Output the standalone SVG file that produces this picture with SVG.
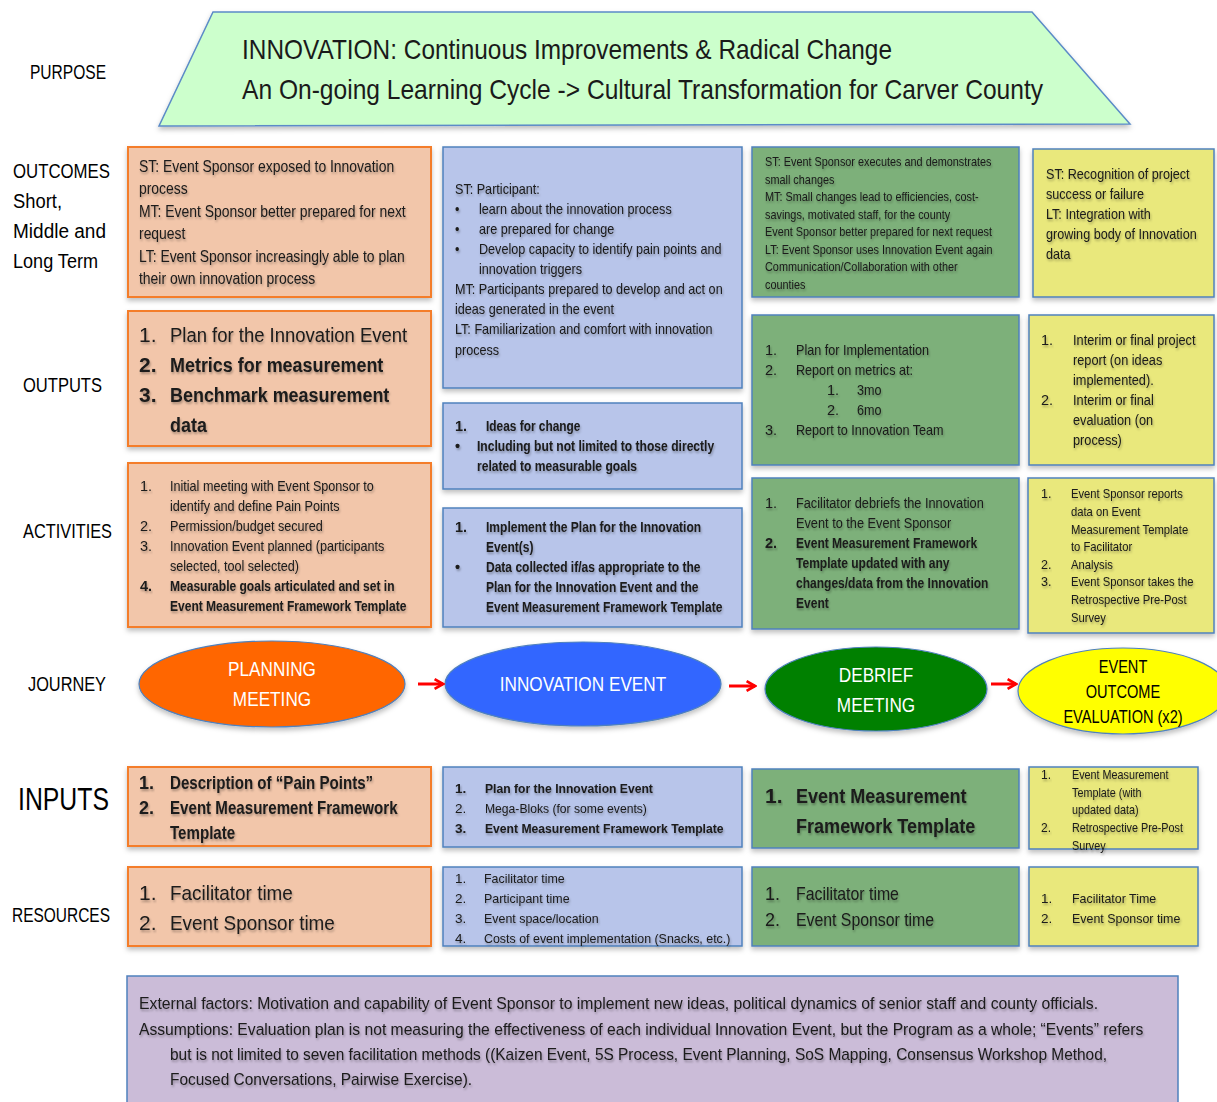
<svg xmlns="http://www.w3.org/2000/svg" width="1217" height="1102" viewBox="0 0 1217 1102">
  <defs>
    <filter id="boxShadow" x="-5%" y="-5%" width="110%" height="120%">
      <feDropShadow dx="0" dy="3" stdDeviation="2.5" flood-color="#000" flood-opacity="0.25"/>
    </filter>
    <filter id="txtShadow" x="-2%" y="-20%" width="104%" height="150%">
      <feDropShadow dx="1" dy="2" stdDeviation="1.2" flood-color="#000" flood-opacity="0.3"/>
    </filter>
    <marker id="redArrow" viewBox="0 0 10 10" refX="8" refY="5" markerWidth="4" markerHeight="4" orient="auto" markerUnits="strokeWidth">
      <path d="M1,1 L8,5 L1,9" fill="none" stroke="#ff0000" stroke-width="2.2"/>
    </marker>
  </defs>
  <style>
    text { font-family: "Liberation Sans", Arial, sans-serif; fill: #1a1a1a; }
    .lbl { font-size: 20px; fill: #000; }
    .t { filter: url(#txtShadow); }
    .b { font-weight: bold; }
    .orange { fill: #f2c6aa; stroke: #f47d2a; stroke-width: 2; filter: url(#boxShadow); }
    .blue { fill: #b8c5ea; stroke: #4f81bd; stroke-width: 1.5; filter: url(#boxShadow); }
    .green { fill: #7db07a; stroke: #4f81bd; stroke-width: 1.5; filter: url(#boxShadow); }
    .yellow { fill: #e9e87c; stroke: #4f81bd; stroke-width: 1.5; filter: url(#boxShadow); }
    .purple { fill: #cbbcd8; stroke: #4f81bd; stroke-width: 1.5; }
    .s12 { font-size: 12.5px; }
    .s13 { font-size: 13.5px; }
    .s14 { font-size: 14.5px; }
    .s16 { font-size: 16px; }
    .ell { stroke: #4f81bd; stroke-width: 1.2; filter: url(#boxShadow); }
    .wt { fill: #ffffff; font-size: 20px; text-anchor: middle; }
    .bk { fill: #000000; font-size: 18px; text-anchor: middle; }
  </style>

  <rect width="1217" height="1102" fill="#ffffff"/>

  <!-- Row labels -->
  <g id="row-labels">
    <text class="lbl" x="30" y="79" textLength="76" lengthAdjust="spacingAndGlyphs">PURPOSE</text>
    <text class="lbl" x="13" y="178" textLength="97" lengthAdjust="spacingAndGlyphs">OUTCOMES</text>
    <text class="lbl" x="13" y="208" textLength="49" lengthAdjust="spacingAndGlyphs">Short,</text>
    <text class="lbl" x="13" y="238" textLength="93" lengthAdjust="spacingAndGlyphs">Middle and</text>
    <text class="lbl" x="13" y="268" textLength="85" lengthAdjust="spacingAndGlyphs">Long Term</text>
    <text class="lbl" x="23" y="392" textLength="79" lengthAdjust="spacingAndGlyphs">OUTPUTS</text>
    <text class="lbl" x="23" y="538" textLength="89" lengthAdjust="spacingAndGlyphs">ACTIVITIES</text>
    <text class="lbl" x="28" y="691" textLength="78" lengthAdjust="spacingAndGlyphs">JOURNEY</text>
    <text class="lbl" x="18" y="810" style="font-size:32px" textLength="91" lengthAdjust="spacingAndGlyphs">INPUTS</text>
    <text class="lbl" x="12" y="922" textLength="98" lengthAdjust="spacingAndGlyphs">RESOURCES</text>
  </g>

  <!-- Purpose banner -->
  <g id="purpose">
    <polygon points="213,12 1032,12 1130,124 159,126" fill="#ccffcc" stroke="#5b8bc7" stroke-width="1.5" filter="url(#boxShadow)"/>
    <text x="242" y="59" style="font-size:28px" textLength="650" lengthAdjust="spacingAndGlyphs">INNOVATION: Continuous Improvements &amp; Radical Change</text>
    <text x="242" y="99" style="font-size:28px" textLength="801" lengthAdjust="spacingAndGlyphs">An On-going Learning Cycle -&gt; Cultural Transformation for Carver County</text>
  </g>

  <!-- Planning meeting column -->
  <g id="plan-outcomes">
    <rect class="orange" x="128" y="147" width="303" height="150"/>
    <g class="t s16" transform="translate(139 0) scale(0.87 1)">
      <text x="0" y="172">ST: Event Sponsor exposed to Innovation</text>
      <text x="0" y="194">process</text>
      <text x="0" y="217">MT: Event Sponsor better prepared for next</text>
      <text x="0" y="239">request</text>
      <text x="0" y="262">LT: Event Sponsor increasingly able to plan</text>
      <text x="0" y="284">their own innovation process</text>
    </g>
  </g>
  <g id="plan-outputs">
    <rect class="orange" x="128" y="311" width="303" height="135"/>
    <g class="t" style="font-size:21px">
      <text x="139" y="342">1.</text>
      <text class="b" x="139" y="372">2.</text>
      <text class="b" x="139" y="402">3.</text>
    </g>
    <g class="t" style="font-size:21px" transform="translate(170 0) scale(0.88 1)">
      <text x="0" y="342">Plan for the Innovation Event</text>
    </g>
    <g class="t b" style="font-size:21px" transform="translate(170 0) scale(0.855 1)">
      <text x="0" y="372">Metrics for measurement</text>
      <text x="0" y="402">Benchmark measurement</text>
      <text x="0" y="432">data</text>
    </g>
  </g>
  <g id="plan-activities">
    <rect class="orange" x="128" y="463" width="303" height="164"/>
    <g class="t s14">
      <text x="140" y="491">1.</text>
      <text x="140" y="531">2.</text>
      <text x="140" y="551">3.</text>
      <text class="b" x="140" y="591">4.</text>
    </g>
    <g class="t s14" transform="translate(170 0) scale(0.87 1)">
      <text x="0" y="491">Initial meeting with Event Sponsor to</text>
      <text x="0" y="511">identify and define Pain Points</text>
      <text x="0" y="531">Permission/budget secured</text>
      <text x="0" y="551">Innovation Event planned (participants</text>
      <text x="0" y="571">selected, tool selected)</text>
    </g>
    <g class="t s14 b" transform="translate(170 0) scale(0.83 1)">
      <text x="0" y="591">Measurable goals articulated and set in</text>
      <text x="0" y="611">Event Measurement Framework Template</text>
    </g>
  </g>
  <g id="plan-inputs">
    <rect class="orange" x="128" y="767" width="303" height="79"/>
    <g class="t b" style="font-size:18px">
      <text x="139" y="789">1.</text>
      <text x="139" y="814">2.</text>
    </g>
    <g class="t b" style="font-size:18px" transform="translate(170 0) scale(0.84 1)">
      <text x="0" y="789">Description of “Pain Points”</text>
      <text x="0" y="814">Event Measurement Framework</text>
      <text x="0" y="839">Template</text>
    </g>
  </g>
  <g id="plan-resources">
    <rect class="orange" x="128" y="867" width="303" height="79"/>
    <g class="t" style="font-size:21px">
      <text x="139" y="900">1.</text>
      <text x="139" y="930">2.</text>
    </g>
    <g class="t" style="font-size:21px" transform="translate(170 0) scale(0.9 1)">
      <text x="0" y="900">Facilitator time</text>
      <text x="0" y="930">Event Sponsor time</text>
    </g>
  </g>

  <!-- Innovation event column -->
  <g id="event-outcomes">
    <rect class="blue" x="443" y="147" width="299" height="241"/>
    <g class="t s14" transform="translate(455 0) scale(0.87 1)">
      <text x="0" y="194">ST: Participant:</text>
      <text x="0" y="214">•</text>
      <text x="0" y="234">•</text>
      <text x="0" y="254">•</text>
      <text x="0" y="294">MT: Participants prepared to develop and act on</text>
      <text x="0" y="314">ideas generated in the event</text>
      <text x="0" y="334">LT: Familiarization and comfort with innovation</text>
      <text x="0" y="355">process</text>
    </g>
    <g class="t s14" transform="translate(479 0) scale(0.87 1)">
      <text x="0" y="214">learn about the innovation process</text>
      <text x="0" y="234">are prepared for change</text>
      <text x="0" y="254">Develop capacity to identify pain points and</text>
      <text x="0" y="274">innovation triggers</text>
    </g>
  </g>
  <g id="event-outputs">
    <rect class="blue" x="443" y="403" width="299" height="86"/>
    <g class="t s14 b">
      <text x="455" y="431">1.</text>
      <text x="455" y="451">•</text>
    </g>
    <g class="t s14 b" transform="translate(486 0) scale(0.82 1)">
      <text x="0" y="431">Ideas for change</text>
    </g>
    <g class="t s14 b" transform="translate(477 0) scale(0.835 1)">
      <text x="0" y="451">Including but not limited to those directly</text>
      <text x="0" y="471">related to measurable goals</text>
    </g>
  </g>
  <g id="event-activities">
    <rect class="blue" x="443" y="508" width="299" height="119"/>
    <g class="t s14 b">
      <text x="455" y="532">1.</text>
      <text x="455" y="572">•</text>
    </g>
    <g class="t s14 b" transform="translate(486 0) scale(0.83 1)">
      <text x="0" y="532">Implement the Plan for the Innovation</text>
      <text x="0" y="552">Event(s)</text>
      <text x="0" y="572">Data collected if/as appropriate to the</text>
      <text x="0" y="592">Plan for the Innovation Event and the</text>
      <text x="0" y="612">Event Measurement Framework Template</text>
    </g>
  </g>
  <g id="event-inputs">
    <rect class="blue" x="443" y="767" width="299" height="80"/>
    <g class="t s13">
      <text class="b" x="455" y="793">1.</text>
      <text x="455" y="813">2.</text>
      <text class="b" x="455" y="833">3.</text>
    </g>
    <g class="t s13" transform="translate(485 0) scale(0.9 1)">
      <text class="b" x="0" y="793">Plan for the Innovation Event</text>
      <text x="0" y="813">Mega-Bloks (for some events)</text>
      <text class="b" x="0" y="833">Event Measurement Framework Template</text>
    </g>
  </g>
  <g id="event-resources">
    <rect class="blue" x="443" y="867" width="299" height="79"/>
    <g class="t s13">
      <text x="455" y="883">1.</text>
      <text x="455" y="903">2.</text>
      <text x="455" y="923">3.</text>
      <text x="455" y="943">4.</text>
    </g>
    <g class="t s13" transform="translate(484 0) scale(0.92 1)">
      <text x="0" y="883">Facilitator time</text>
      <text x="0" y="903">Participant time</text>
      <text x="0" y="923">Event space/location</text>
      <text x="0" y="943">Costs of event implementation (Snacks, etc.)</text>
    </g>
  </g>

  <!-- Debrief meeting column -->
  <g id="debrief-outcomes">
    <rect class="green" x="752" y="147" width="267" height="150"/>
    <g class="t s12" transform="translate(765 0) scale(0.87 1)">
      <text x="0" y="166">ST: Event Sponsor executes and demonstrates</text>
      <text x="0" y="184">small changes</text>
      <text x="0" y="201">MT: Small changes lead to efficiencies, cost-</text>
      <text x="0" y="219">savings, motivated staff,  for the county</text>
      <text x="0" y="236">Event Sponsor better prepared for next request</text>
      <text x="0" y="254">LT: Event Sponsor uses Innovation Event again</text>
      <text x="0" y="271">Communication/Collaboration  with other</text>
      <text x="0" y="289">counties</text>
    </g>
  </g>
  <g id="debrief-outputs">
    <rect class="green" x="752" y="315" width="267" height="150"/>
    <g class="t s14">
      <text x="765" y="355">1.</text>
      <text x="765" y="375">2.</text>
      <text x="827" y="395">1.</text>
      <text x="827" y="415">2.</text>
      <text x="765" y="435">3.</text>
    </g>
    <g class="t s14" transform="translate(796 0) scale(0.87 1)">
      <text x="0" y="355">Plan for Implementation</text>
      <text x="0" y="375">Report on metrics at:</text>
      <text x="0" y="435">Report to Innovation Team</text>
    </g>
    <g class="t s14" transform="translate(857 0) scale(0.87 1)">
      <text x="0" y="395">3mo</text>
      <text x="0" y="415">6mo</text>
    </g>
  </g>
  <g id="debrief-activities">
    <rect class="green" x="752" y="478" width="267" height="151"/>
    <g class="t s14">
      <text x="765" y="508">1.</text>
      <text class="b" x="765" y="548">2.</text>
    </g>
    <g class="t s14" transform="translate(796 0) scale(0.88 1)">
      <text x="0" y="508">Facilitator debriefs the Innovation</text>
      <text x="0" y="528">Event to the Event Sponsor</text>
    </g>
    <g class="t s14 b" transform="translate(796 0) scale(0.83 1)">
      <text x="0" y="548">Event Measurement Framework</text>
      <text x="0" y="568">Template updated with any</text>
      <text x="0" y="588">changes/data from the Innovation</text>
      <text x="0" y="608">Event</text>
    </g>
  </g>
  <g id="debrief-inputs">
    <rect class="green" x="752" y="769" width="267" height="79"/>
    <g class="t b" style="font-size:21px">
      <text x="765" y="803">1.</text>
    </g>
    <g class="t b" style="font-size:21px" transform="translate(796 0) scale(0.86 1)">
      <text x="0" y="803">Event Measurement</text>
      <text x="0" y="833">Framework Template</text>
    </g>
  </g>
  <g id="debrief-resources">
    <rect class="green" x="752" y="867" width="267" height="79"/>
    <g class="t" style="font-size:18px">
      <text x="765" y="900">1.</text>
      <text x="765" y="926">2.</text>
    </g>
    <g class="t" style="font-size:18px" transform="translate(796 0) scale(0.88 1)">
      <text x="0" y="900">Facilitator time</text>
      <text x="0" y="926">Event Sponsor time</text>
    </g>
  </g>

  <!-- Outcome evaluation column -->
  <g id="evaluation-outcomes">
    <rect class="yellow" x="1033" y="149" width="181" height="148"/>
    <g class="t s14" transform="translate(1046 0) scale(0.87 1)">
      <text x="0" y="179">ST: Recognition of project</text>
      <text x="0" y="199">success or failure</text>
      <text x="0" y="219">LT: Integration with</text>
      <text x="0" y="239">growing body of Innovation</text>
      <text x="0" y="259">data</text>
    </g>
  </g>
  <g id="evaluation-outputs">
    <rect class="yellow" x="1029" y="315" width="185" height="150"/>
    <g class="t s14">
      <text x="1041" y="345">1.</text>
      <text x="1041" y="405">2.</text>
    </g>
    <g class="t s14" transform="translate(1073 0) scale(0.88 1)">
      <text x="0" y="345">Interim or final project</text>
      <text x="0" y="365">report (on ideas</text>
      <text x="0" y="385">implemented).</text>
      <text x="0" y="405">Interim or final</text>
      <text x="0" y="425">evaluation (on</text>
      <text x="0" y="445">process)</text>
    </g>
  </g>
  <g id="evaluation-activities">
    <rect class="yellow" x="1028" y="478" width="186" height="155"/>
    <g class="t s12">
      <text x="1041" y="498">1.</text>
      <text x="1041" y="569">2.</text>
      <text x="1041" y="586">3.</text>
    </g>
    <g class="t s12" transform="translate(1071 0) scale(0.9 1)">
      <text x="0" y="498">Event Sponsor reports</text>
      <text x="0" y="516">data on Event</text>
      <text x="0" y="534">Measurement Template</text>
      <text x="0" y="551">to Facilitator</text>
      <text x="0" y="569">Analysis</text>
      <text x="0" y="586">Event Sponsor takes the</text>
      <text x="0" y="604">Retrospective Pre-Post</text>
      <text x="0" y="622">Survey</text>
    </g>
  </g>
  <g id="evaluation-inputs">
    <rect class="yellow" x="1029" y="767" width="169" height="82"/>
    <g class="t" style="font-size:12px">
      <text x="1041" y="779">1.</text>
      <text x="1041" y="832">2.</text>
    </g>
    <g class="t" style="font-size:12px" transform="translate(1072 0) scale(0.9 1)">
      <text x="0" y="779">Event Measurement</text>
      <text x="0" y="797">Template (with</text>
      <text x="0" y="814">updated data)</text>
      <text x="0" y="832">Retrospective Pre-Post</text>
      <text x="0" y="850">Survey</text>
    </g>
  </g>
  <g id="evaluation-resources">
    <rect class="yellow" x="1029" y="867" width="169" height="79"/>
    <g class="t s13">
      <text x="1041" y="903">1.</text>
      <text x="1041" y="923">2.</text>
    </g>
    <g class="t s13" transform="translate(1072 0) scale(0.92 1)">
      <text x="0" y="903">Facilitator Time</text>
      <text x="0" y="923">Event Sponsor time</text>
    </g>
  </g>

  <!-- Journey stages -->
  <g id="stage-planning">
    <ellipse class="ell" cx="272" cy="684" rx="133" ry="43" fill="#ff6600"/>
    <g transform="translate(272 0) scale(0.86 1)">
      <text class="wt" x="0" y="676">PLANNING</text>
      <text class="wt" x="0" y="706">MEETING</text>
    </g>
  </g>
  <g id="stage-innovation">
    <ellipse class="ell" cx="583" cy="684" rx="138" ry="42" fill="#3366ff"/>
    <g transform="translate(583 0) scale(0.86 1)">
      <text class="wt" x="0" y="691">INNOVATION EVENT</text>
    </g>
  </g>
  <g id="stage-debrief">
    <ellipse class="ell" cx="876" cy="689" rx="111" ry="42" fill="#008000"/>
    <g transform="translate(876 0) scale(0.86 1)">
      <text class="wt" x="0" y="682">DEBRIEF</text>
      <text class="wt" x="0" y="712">MEETING</text>
    </g>
  </g>
  <g id="stage-evaluation">
    <ellipse class="ell" cx="1123" cy="691" rx="105" ry="43" fill="#ffff00"/>
    <g transform="translate(1123 0) scale(0.81 1)">
      <text class="bk" x="0" y="673">EVENT</text>
      <text class="bk" x="0" y="698">OUTCOME</text>
      <text class="bk" x="0" y="723">EVALUATION (x2)</text>
    </g>
  </g>

  <!-- Connectors between journey stages -->
  <g id="connectors" stroke="#ff0000" stroke-width="3" fill="none">
    <line x1="418" y1="684" x2="443" y2="684" marker-end="url(#redArrow)"/>
    <line x1="729" y1="686" x2="755" y2="686" marker-end="url(#redArrow)"/>
    <line x1="991" y1="684" x2="1016" y2="684" marker-end="url(#redArrow)"/>
  </g>

  <!-- External factors and assumptions -->
  <g id="context">
    <rect class="purple" x="127" y="976" width="1051" height="130"/>
    <g class="t" style="font-size:17px">
      <g transform="translate(139 0) scale(0.928 1)">
        <text x="0" y="1009">External factors: Motivation and capability of Event Sponsor to implement new ideas, political dynamics of senior staff and county officials.</text>
      </g>
      <g transform="translate(139 0) scale(0.95 1)">
        <text x="0" y="1035" style="font-size:16.5px">Assumptions: Evaluation plan is not measuring the effectiveness of each individual Innovation Event, but the Program as a whole; “Events” refers</text>
      </g>
      <g transform="translate(170 0) scale(0.909 1)">
        <text x="0" y="1060">but is not limited to seven facilitation methods ((Kaizen Event, 5S Process, Event Planning, SoS Mapping, Consensus Workshop Method,</text>
        <text x="0" y="1085">Focused Conversations, Pairwise Exercise).</text>
      </g>
    </g>
  </g>
</svg>
